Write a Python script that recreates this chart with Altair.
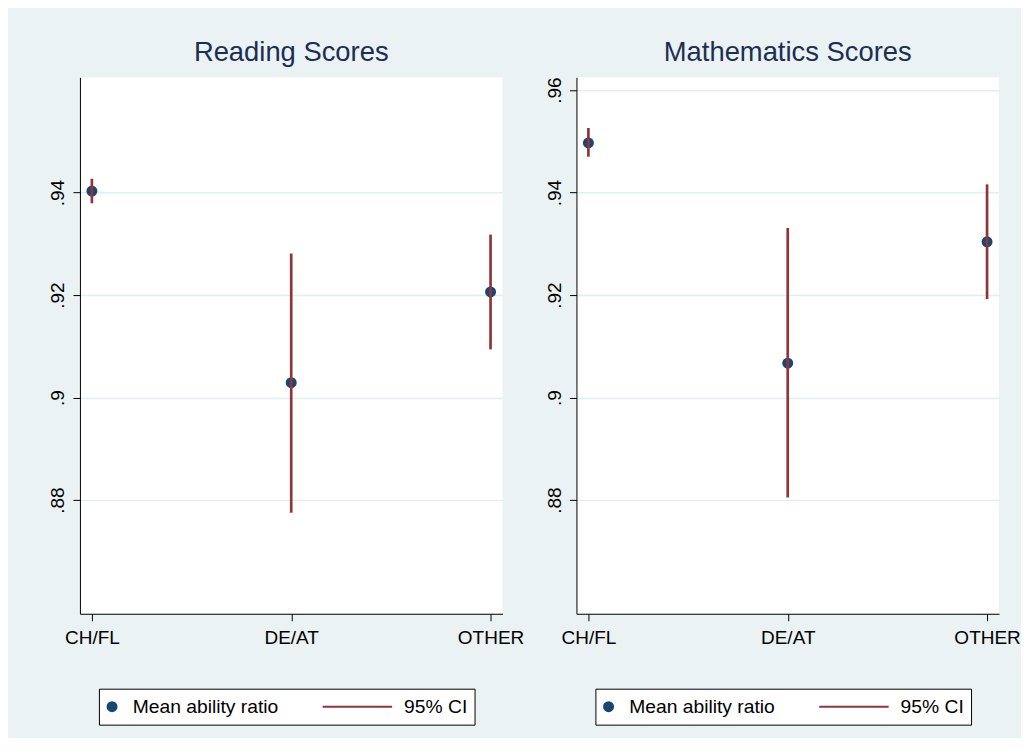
import altair as alt
import pandas as pd

# ---- data ----
categories = ["CH/FL", "DE/AT", "OTHER"]
reading_mean = [0.9403, 0.9029, 0.9206]
reading_lo = [0.9379, 0.8775, 0.9094]
reading_hi = [0.9427, 0.9281, 0.9318]
math_mean = [0.9497, 0.9067, 0.9304]
math_lo = [0.9470, 0.8805, 0.9192]
math_hi = [0.9526, 0.9331, 0.9416]
panel_titles = ["Reading Scores", "Mathematics Scores"]
reading_ticks = [0.88, 0.90, 0.92, 0.94]
math_ticks = [0.88, 0.90, 0.92, 0.94, 0.96]
series_names = ["Mean ability ratio", "95% CI"]
y_domain = [0.8578, 0.9625]

NAVY = "#1a476f"
MAROON = "#90353b"
BG = "#EAF2F3"
GRID = "#E4EDEE"
FONT = "Liberation Sans"


def make_legend():
    return alt.Legend(
        title=None,
        orient="none",
        legendX=19,
        legendY=612,
        direction="horizontal",
        fillColor="white",
        strokeColor="black",
        padding=7,
        columnPadding=44,
        labelFont=FONT,
        labelFontSize=19.3,
        labelColor="black",
        labelOffset=11,
        symbolOffset=-3.5,
        symbolStrokeWidth=2,
        clipHeight=22,
    )


def panel(title, mean, lo, hi, ticks):
    df = pd.DataFrame({"group": categories, "mean": mean, "lo": lo, "hi": hi})
    color_scale = alt.Scale(domain=series_names, range=[NAVY, MAROON])
    shape_scale = alt.Scale(domain=series_names, range=["circle", "M-1,0L1,0"])
    size_scale = alt.Scale(domain=series_names, range=[81, 5184])
    x_axis = alt.Axis(
        title=None, labelAngle=0, grid=False, tickSize=7, labelPadding=8,
        labelFont=FONT, labelFontSize=19, labelColor="black",
        domainColor="black", tickColor="black",
    )
    y_axis = alt.Axis(
        title=None, values=ticks,
        labelExpr="substring(format(datum.value, '.2~f'), 1)",
        labelAngle=270, labelAlign="center", labelBaseline="alphabetic",
        labelPadding=9, tickSize=7, grid=True, gridColor=GRID, gridWidth=1.5,
        labelFont=FONT, labelFontSize=19, labelColor="black",
        domainColor="black", tickColor="black",
    )
    x = alt.X("group:N", sort=categories,
              scale=alt.Scale(type="point", padding=0.06), axis=x_axis)
    y_scale = alt.Scale(domain=y_domain, nice=False, zero=False)
    base = alt.Chart(df)
    pts = base.mark_point(filled=False, fill=NAVY, strokeWidth=2, opacity=1).transform_calculate(
        series="'Mean ability ratio'"
    ).encode(
        x=x,
        y=alt.Y("mean:Q", scale=y_scale, axis=y_axis),
        color=alt.Color("series:N", scale=color_scale, legend=make_legend()),
        shape=alt.Shape("series:N", scale=shape_scale, legend=make_legend()),
        size=alt.Size("series:N", scale=size_scale, legend=make_legend()),
    )
    ci = base.mark_rule(strokeWidth=2.7).transform_calculate(
        series="'95% CI'"
    ).encode(
        x=x,
        y=alt.Y("lo:Q", scale=y_scale, axis=y_axis),
        y2="hi:Q",
        color=alt.Color("series:N", scale=color_scale, legend=make_legend()),
    )
    return alt.layer(pts, ci).properties(
        width=423, height=537,
        title=alt.Title(title, fontSize=27.4, font=FONT, fontWeight="normal",
                        color="#1c2e52", anchor="middle", frame="group",
                        baseline="alphabetic", offset=-11),
    )


left = panel(panel_titles[0], reading_mean, reading_lo, reading_hi, reading_ticks)
right = panel(panel_titles[1], math_mean, math_lo, math_hi, math_ticks)

chart = alt.hconcat(left, right, spacing=74, bounds="flush").resolve_scale(
    color="independent", shape="independent", size="independent"
).resolve_legend(
    color="independent", shape="independent", size="independent"
).configure(
    background=BG,
    padding={"left": 41, "top": 30, "right": 0, "bottom": 12},
).configure_view(fill="white", strokeWidth=0)

chart.save("out.html", embed_options={"renderer": "svg", "actions": False})
